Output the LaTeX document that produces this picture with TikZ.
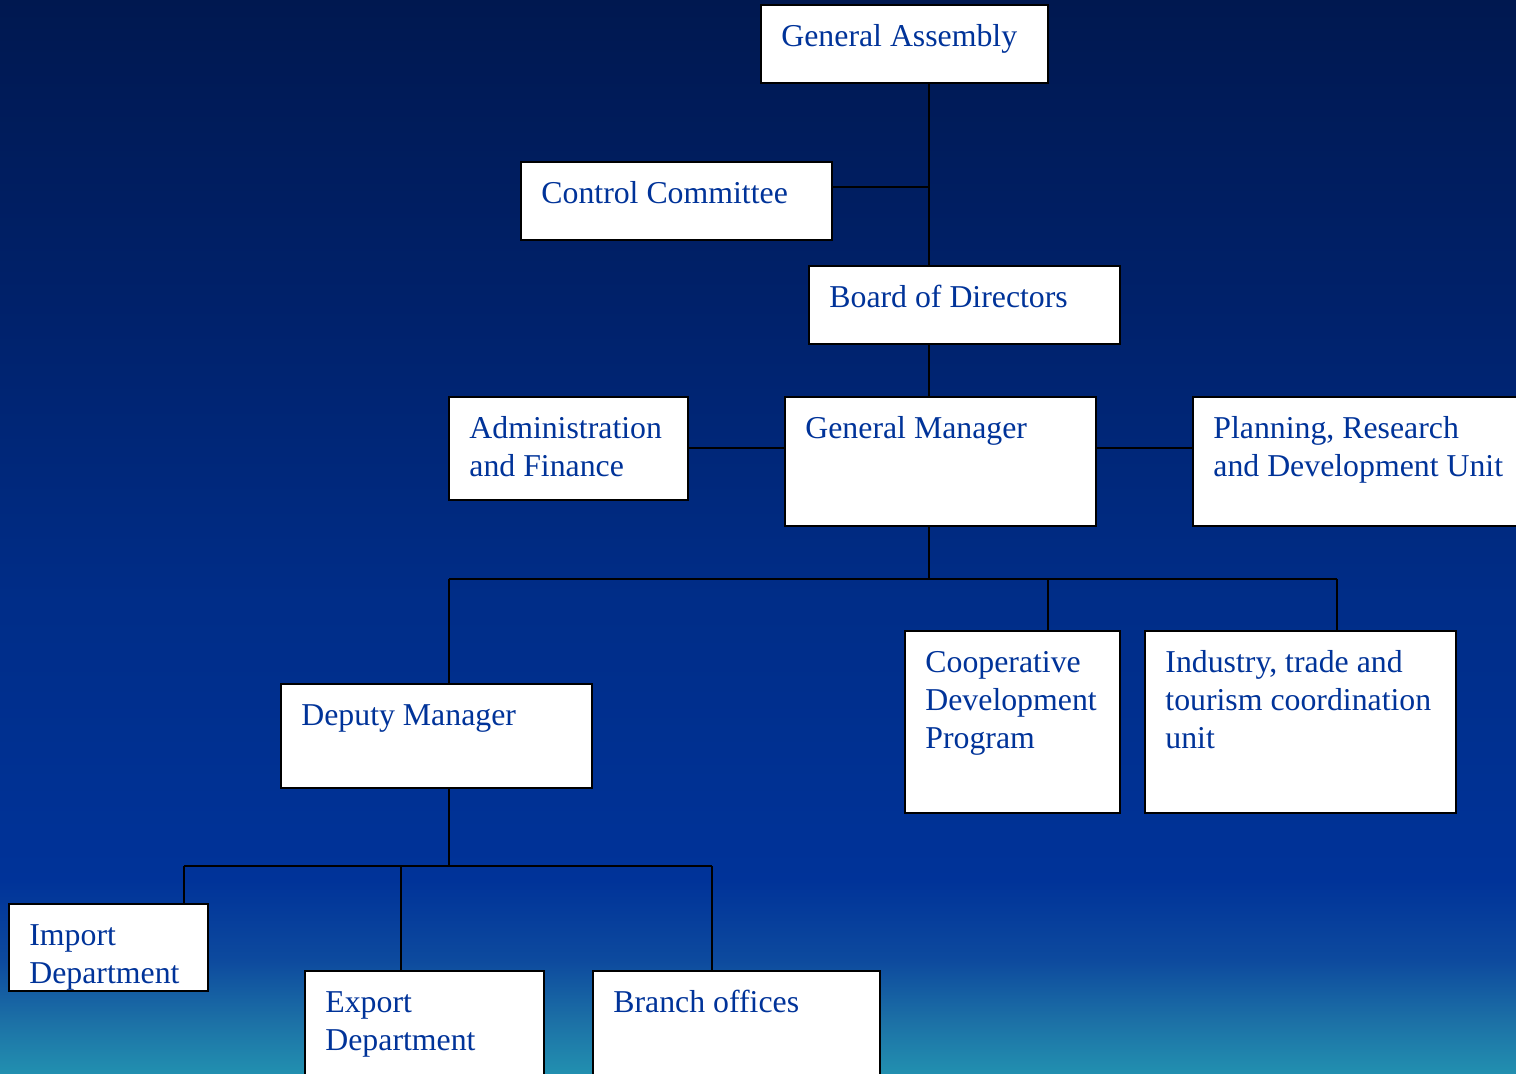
\documentclass[tikz,border=0pt]{standalone}
\usepackage{fontspec}
\setmainfont{Liberation Serif}
\definecolor{orgblue}{RGB}{0,51,153}
% backdrop: navy at the top, blue through the middle, teal at the foot
\pgfdeclareverticalshading{backdrop}{100bp}{%
  color(0bp)=(rgb,255:red,34;green,144;blue,176);
  color(25bp)=(rgb,255:red,34;green,144;blue,176);
  color(27.5bp)=(rgb,255:red,28;green,112;blue,166);
  color(30.3bp)=(rgb,255:red,13;green,74;blue,158);
  color(34bp)=(rgb,255:red,0;green,51;blue,153);
  color(47bp)=(rgb,255:red,0;green,45;blue,136);
  color(61bp)=(rgb,255:red,0;green,33;blue,106);
  color(75bp)=(rgb,255:red,0;green,24;blue,80);
  color(100bp)=(rgb,255:red,0;green,24;blue,80)}
\tikzset{
  unitbox/.style={draw=black, line width=1pt, fill=white, inner sep=0pt, outer sep=0pt, anchor=north west},
  unittext/.style={text=orgblue, font=\fontsize{15.9}{19}\selectfont, align=left, inner sep=0pt, anchor=north west},
  link/.style={draw=black, line width=1pt}
}
% \orgunit{name}{left}{top}{width}{height}{text}, sizes in px units
\newcommand\orgunit[6]{%
  \node[unitbox, minimum width={#4*0.5pt}, minimum height={#5*0.5pt}] (#1) at (#2,#3) {};
  \node[unittext] (#1-label) at ([xshift=10pt, yshift=-5.5pt]#1.north west) {\rule{0pt}{15pt}#6};
}
\begin{document}
\begin{tikzpicture}[x=0.5pt, y=-0.5pt]
\useasboundingbox (0,0) rectangle (1516,1074);
\clip (0,0) rectangle (1516,1074);
\shade[shading=backdrop] (0,0) rectangle (1516,1074);

% junction points of the connectors
\coordinate (spine) at (929,0);
\coordinate (ccjoin) at (929,187);
\coordinate (busL) at (449,579);
\coordinate (busM) at (929,579);
\coordinate (busC) at (1048,579);
\coordinate (busR) at (1337,579);
\coordinate (lowL) at (184,866);
\coordinate (lowE) at (401,866);
\coordinate (lowM) at (449,866);
\coordinate (lowR) at (712,866);

% units
\orgunit{ga}{761}{5}{287}{78}{General Assembly}
\orgunit{cc}{521}{162}{311}{78}{Control Committee}
\orgunit{bd}{809}{266}{311}{78}{Board of Directors}
\orgunit{af}{449}{397}{239}{103}{Administration\\and Finance}
\orgunit{gm}{785}{397}{311}{129}{General Manager}
\orgunit{pr}{1193}{397}{340}{129}{Planning, Research\\and Development Unit}
\orgunit{dm}{281}{684}{311}{104}{Deputy Manager}
\orgunit{cd}{905}{631}{215}{182}{Cooperative\\Development\\Program}
\orgunit{it}{1145}{631}{311}{182}{Industry, trade and\\tourism coordination\\unit}
\orgunit{im}{9}{904}{199}{87}{Import\\Department}
\orgunit{ex}{305}{971}{239}{130}{Export\\Department}
\orgunit{br}{593}{971}{287}{130}{Branch offices}

% connectors
\draw[link] (ga.south -| spine) -- (bd.north -| spine);
\draw[link] (ccjoin -| cc.east) -- (ccjoin);
\draw[link] (bd.south -| spine) -- (gm.north -| spine);
\draw[link] (af.east) -- (gm.west |- af.east);
\draw[link] (gm.east |- af.east) -- (pr.west |- af.east);
\draw[link] (gm.south -| spine) -- (busM);
\draw[link] (busL) -- (busR);
\draw[link] (busL) -- (dm.north -| busL);
\draw[link] (busC) -- (cd.north -| busC);
\draw[link] (busR) -- (it.north -| busR);
\draw[link] (dm.south -| lowM) -- (lowM);
\draw[link] (lowL) -- (lowR);
\draw[link] (lowL) -- (im.north -| lowL);
\draw[link] (lowE) -- (ex.north -| lowE);
\draw[link] (lowR) -- (br.north -| lowR);
\end{tikzpicture}
\end{document}
